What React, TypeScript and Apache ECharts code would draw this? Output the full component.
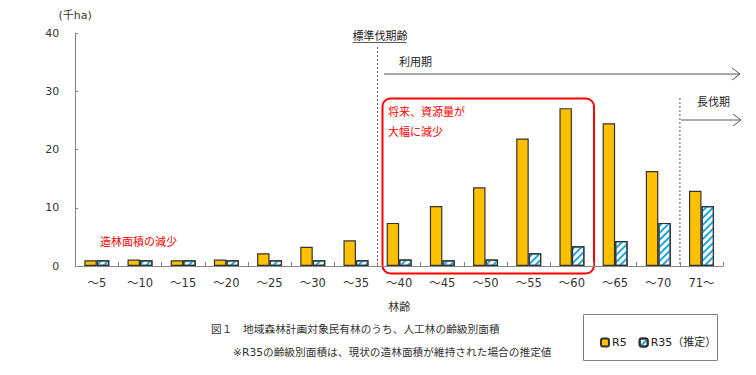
import React, { useEffect, useRef } from "react";
import * as echarts from "echarts";

const categories = ["～5", "～10", "～15", "～20", "～25", "～30", "～35", "～40", "～45", "～50", "～55", "～60", "～65", "～70", "71～"];
const r5Values = [1.0, 1.1, 1.0, 1.1, 2.2, 3.3, 4.4, 7.4, 10.3, 13.5, 21.9, 27.1, 24.5, 16.3, 12.9];
const r35Values = [1.0, 1.0, 1.0, 1.0, 1.0, 1.0, 1.0, 1.1, 1.0, 1.1, 2.2, 3.4, 4.3, 7.4, 10.3];
const seriesNames = ["R5", "R35（推定）"];
const yTicks = { min: 0, max: 40, interval: 10 };

const FONT = "'DejaVu Sans', 'Noto Sans CJK JP', sans-serif";
const GL = 75.2;
const GR = 723.1;
const GT = 33;
const GB = 266;
const W = 756;
const H = 375;

export default function App() {
  const ref = useRef<HTMLDivElement>(null);
  useEffect(() => {
    document.body.style.margin = "0";
    if (!ref.current) return;
    const chart = echarts.init(ref.current, null, { renderer: "svg" });
    const catW = (GR - GL) / categories.length;
    const bx = (i: number) => GL + catW * i;
    const gray = "#595959";
    const red = "#FF0000";
    const line = (x1: number, y1: number, x2: number, y2: number, dash?: number[]) => ({
      type: "line",
      shape: { x1, y1, x2, y2 },
      style: { stroke: gray, lineWidth: 1, lineDash: dash },
      silent: true,
    });
    const chevron = (x: number, y: number) => ({
      type: "polyline",
      shape: { points: [[x - 8, y - 6], [x, y], [x - 8, y + 6]] },
      style: { stroke: gray, lineWidth: 1, fill: null },
      silent: true,
    });
    const text = (x: number, y: number, t: string, color = "#222", size = 11, align = "left") => ({
      type: "text",
      x,
      y,
      style: { text: t, fill: color, font: `${size}px ${FONT}`, align, verticalAlign: "middle" },
      silent: true,
    });
    chart.setOption({
      animation: false,
      grid: { left: GL, right: W - GR, top: GT, bottom: H - GB, containLabel: false },
      legend: {
        data: seriesNames,
        left: 595,
        top: 332,
        itemWidth: 8,
        itemHeight: 8,
        itemGap: 12,
        textStyle: { fontFamily: FONT, fontSize: 11, color: "#222", padding: [0, 0, 0, -2] },
        z: 10,
      },
      xAxis: {
        type: "category",
        data: categories,
        axisLine: { lineStyle: { color: "#868686", width: 1 } },
        axisTick: { show: true, inside: true, length: 4, interval: 0, lineStyle: { color: "#868686" } },
        axisLabel: { fontFamily: FONT, fontSize: 11.5, color: "#333", margin: 11, interval: 0 },
        name: "林齢",
        nameLocation: "middle",
        nameGap: 36,
        nameTextStyle: { fontFamily: FONT, fontSize: 11, color: "#333" },
      },
      yAxis: {
        type: "value",
        min: yTicks.min,
        max: yTicks.max,
        interval: yTicks.interval,
        splitLine: { show: false },
        axisLine: { show: true, lineStyle: { color: "#868686", width: 1 } },
        axisTick: { show: true, inside: true, length: 3, lineStyle: { color: "#868686" } },
        axisLabel: { fontFamily: FONT, fontSize: 11, color: "#333", margin: 16 },
        name: "(千ha)",
        nameLocation: "end",
        nameGap: 12,
        nameTextStyle: { fontFamily: FONT, fontSize: 11, color: "#333", align: "center", padding: [0, 0, 0, 0] },
      },
      series: [
        {
          name: seriesNames[0],
          type: "bar",
          data: r5Values,
          barWidth: 12.5,
          barGap: "0%",
          itemStyle: { color: "#FFC000", borderColor: "#333", borderWidth: 1.2 },
        },
        {
          name: seriesNames[1],
          type: "bar",
          data: r35Values,
          barWidth: 12.5,
          barGap: "0%",
          itemStyle: {
            color: "#FFFFFF",
            borderColor: "#333",
            borderWidth: 1.2,
            decal: {
              symbol: "rect",
              symbolSize: 1,
              color: "#1EA7E1",
              backgroundColor: "#FFFFFF",
              dashArrayX: [[1, 0]],
              dashArrayY: [2, 3],
              rotation: -Math.PI / 4,
            },
          },
        },
      ],
      graphic: [
        {
          type: "rect",
          shape: { x: 583.5, y: 314.5, width: 134, height: 46 },
          style: { stroke: "#808080", fill: "#fff", lineWidth: 1 },
          z: -1,
          silent: true,
        },
        line(bx(7), 47, bx(7), GB, [2, 2]),
        text(bx(7) - 25, 36, "標準伐期齢", "#222", 11),
        line(bx(7) - 25, 42.5, bx(7) + 29, 42.5),
        text(399, 62, "利用期", "#222", 11),
        line(384, 74, 740, 74),
        chevron(740, 74),
        line(bx(14), 98, bx(14), GB, [2, 2]),
        text(697, 102, "長伐期", "#222", 11),
        line(681, 120, 741, 120),
        chevron(741, 120),
        {
          type: "rect",
          shape: { x: 382.5, y: 98.5, width: 211.5, height: 175, r: 8 },
          style: { stroke: red, fill: null, lineWidth: 2 },
          silent: true,
        },
        text(388, 112, "将来、資源量が", red, 11),
        text(388, 132, "大幅に減少", red, 11),
        text(100, 242, "造林面積の減少", red, 11),
        text(211, 329, "図１　地域森林計画対象民有林のうち、人工林の齢級別面積", "#333", 10.7),
        text(233, 352, "※R35の齢級別面積は、現状の造林面積が維持された場合の推定値", "#333", 10.7),
      ],
    });
    return () => chart.dispose();
  }, []);
  return <div ref={ref} style={{ width: W, height: H }} />;
}
